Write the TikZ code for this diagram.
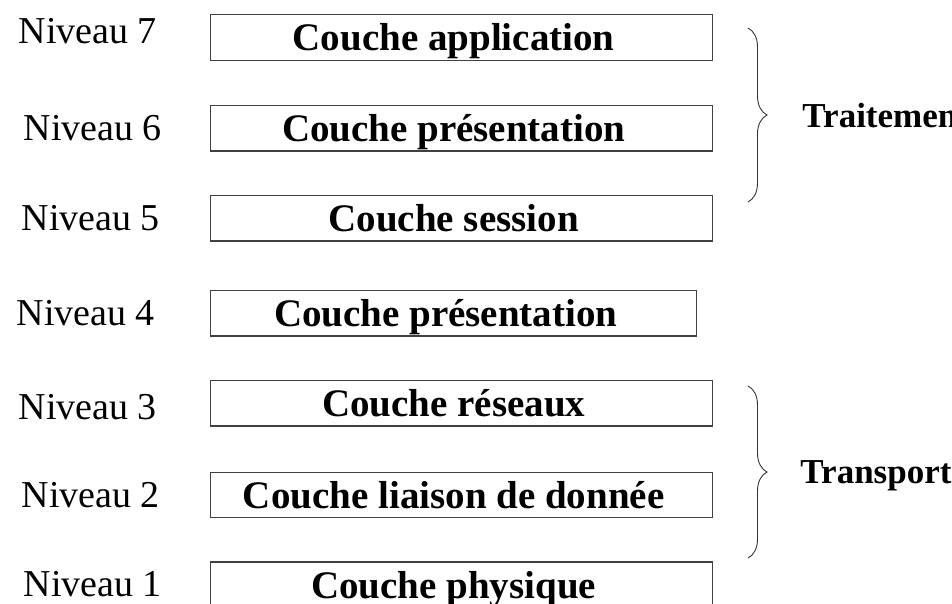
\documentclass[tikz,border=0pt]{standalone}
\usepackage{fontspec}
\setmainfont{Liberation Serif}
\usetikzlibrary{positioning,decorations.pathreplacing}

\begin{document}
\begin{tikzpicture}[x=1pt,y=1pt]
  \useasboundingbox (0,0) rectangle (952,-603);
  \begin{scope}[
    every node/.style={
      draw=black!75,
      line width=1.4pt,
      font=\fontsize{39}{41}\selectfont\bfseries,
      minimum width=502pt,
      inner ysep=0pt,
      text height=36pt,
      text depth=9.5pt,
      execute at begin node=\hspace*{-16pt},
    },
    ]
    \node[anchor=north west] (couche7) at (210,-14) {Couche application};
    \node[below=44pt of couche7] (couche6) {Couche présentation};
    \node[below=43pt of couche6] (couche5) {Couche session};
    \node[below=48pt of couche5.south west, anchor=north west,
      minimum width=486pt, execute at begin node={}] (couche4) {Couche présentation};
    \node[below=43pt of couche4.south west, anchor=north west] (couche3) {Couche réseaux};
    \node[below=45pt of couche3] (couche2) {Couche liaison de donnée};
    \node[below=43pt of couche2] (couche1) {Couche physique};
  \end{scope}
  \begin{scope}[
    node distance=50pt,
    every node/.style={font=\fontsize{38}{40}\selectfont, inner sep=0pt},
    ]
    \node[left=53pt of couche7, yshift=6pt] (niveau7) {Niveau 7};
    \node[left=48pt of couche6] (niveau6) {Niveau 6};
    \node[left=of couche5] (niveau5) {Niveau 5};
    \node[left=55pt of couche4] (niveau4) {Niveau 4};
    \node[left=53pt of couche3, yshift=-4pt] (niveau3) {Niveau 3};
    \node[left=of couche2] (niveau2) {Niveau 2};
    \node[left=48pt of couche1, yshift=1pt] (niveau1) {Niveau 1};
  \end{scope}
  \begin{scope}[
    accolade/.style={decorate, decoration={brace, amplitude=19pt},
      line width=0.9pt, draw=black!80},
    every node/.style={font=\fontsize{35}{37}\selectfont\bfseries,
      inner sep=0pt, text depth=0pt},
    ]
    \coordinate (traitHaut) at (748,-28);
    \coordinate (traitBas) at (748,-202);
    \coordinate (transHaut) at (748,-386);
    \coordinate (transBas) at (748,-558);
    \draw[accolade] (traitHaut) -- node[right=54pt] (traitement) {Traitement} (traitBas);
    \draw[accolade] (transHaut) -- node[right=52pt] (transport) {Transport} (transBas);
  \end{scope}
\end{tikzpicture}
\end{document}
